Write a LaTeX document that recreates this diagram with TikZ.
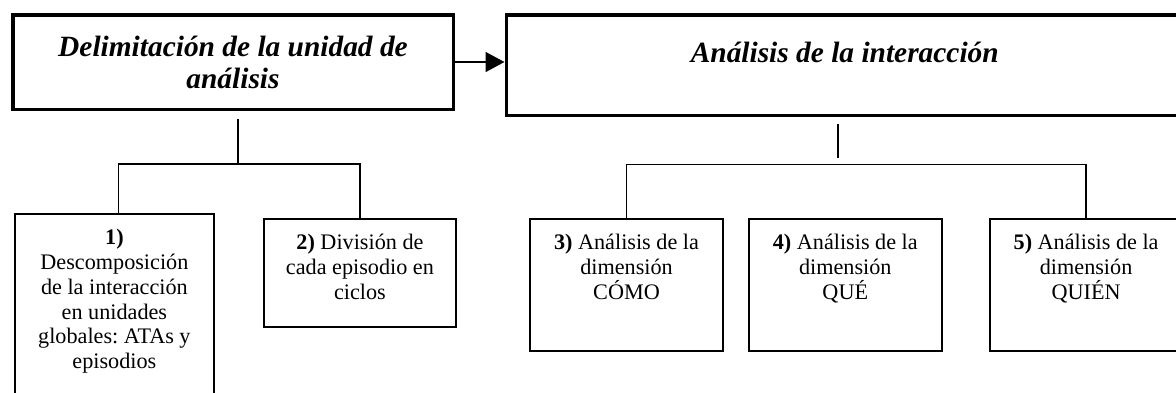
\documentclass[tikz,border=0pt]{standalone}
\usepackage{fontspec}
\setmainfont{Liberation Serif}
\usepackage{tikz}
\usetikzlibrary{arrows.meta, positioning}
\frenchspacing

\newcommand{\boxtext}[3]{\parbox[c][#2][t]{#1}{\centering\rule{0pt}{31pt}#3}}

\tikzset{
  mainbox/.style={draw, line width=3.5pt, inner sep=0pt, align=center,
    font=\fontsize{29.4}{32}\selectfont\bfseries\itshape},
  stepbox/.style={draw, line width=1.8pt, inner sep=0pt, anchor=north west,
    font=\fontsize{22.2}{24.7}\selectfont},
  link/.style={line width=1.6pt}
}

\begin{document}
\begin{tikzpicture}[x=1pt, y=-1pt]
  \useasboundingbox (0,0) rectangle (1176,392);

  \node (delim) [mainbox, minimum width=440.5pt, minimum height=94.5pt] at (233,62)
    {Delimitación de la unidad de\\ análisis};
  \node (inter) [mainbox, right=49.5pt of delim.north east, anchor=north west,
    minimum width=677pt, text height=48pt, text depth=52.5pt]
    {Análisis de la interacción};

  \node (s1) [stepbox] at (14,213)
    {\boxtext{199pt}{185pt}{\textbf{1)}\\ Descomposición\\ de la interacción\\ en unidades\\ globales: ATAs y\\ episodios}};
  \node (s2) [below right=5pt and 48pt of s1.north east, stepbox]
    {\boxtext{192.5pt}{108pt}{\textbf{2)} División de\\ cada episodio en\\ ciclos}};
  \node (s3) [right=72pt of s2.north east, stepbox]
    {\boxtext{193pt}{132pt}{\textbf{3)} Análisis de la\\ dimensión\\ CÓMO}};
  \node (s4) [right=24pt of s3.north east, stepbox]
    {\boxtext{193pt}{132pt}{\textbf{4)} Análisis de la\\ dimensión\\ QUÉ}};
  \node (s5) [right=46.5pt of s4.north east, stepbox]
    {\boxtext{192pt}{132pt}{\textbf{5)} Análisis de la\\ dimensión\\ QUIÉN}};

  \coordinate (split1) at (238,164);
  \coordinate (split2) at (838,164.5);

  \draw[link, -{Triangle[length=19pt, width=20pt]}] (delim.east) -- (delim.east -| inter.west);

  \draw[link, shorten <=7.75pt] (delim.south -| split1) -- (split1);
  \draw[link] ([xshift=4pt]s1.north) |- (split1) -| (s2.north);

  \draw[link, shorten <=6.75pt, shorten >=6.5pt] (inter.south -| split2) -- (split2);
  \draw[link] (s3.north) |- (split2) -| (s5.north);
\end{tikzpicture}
\end{document}
